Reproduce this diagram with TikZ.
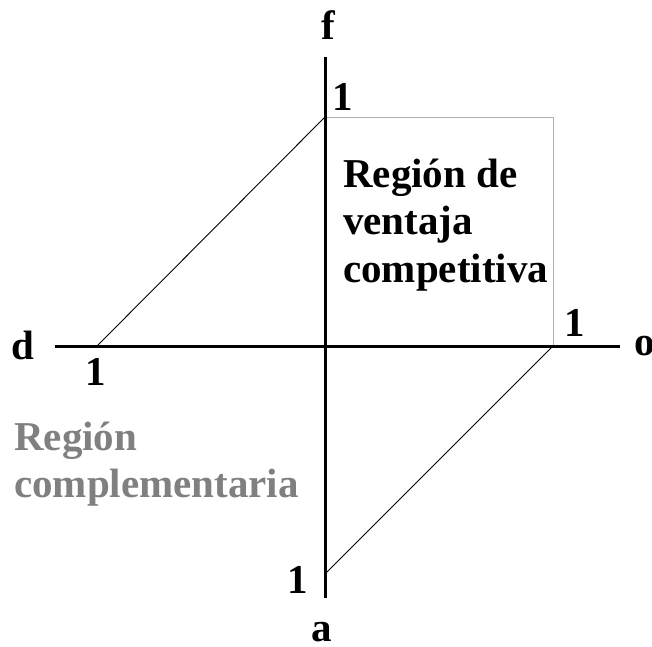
\documentclass[tikz,border=0pt]{standalone}
\usepackage{fontspec}
\setmainfont{Liberation Serif}
\definecolor{txtgray}{RGB}{128,128,128}
\definecolor{boxgray}{RGB}{175,175,175}
\tikzset{
  axisline/.style={line width=3pt},
  diag/.style={line width=0.9pt},
  boxline/.style={line width=1pt, draw=boxgray},
  lbl/.style={font=\fontsize{41}{47}\selectfont\bfseries, inner sep=0pt},
  glbl/.style={lbl, text=txtgray}
}
\begin{document}
\begin{tikzpicture}[x=1pt,y=-1pt]
\useasboundingbox (0,0) rectangle (652,646);
\clip (0,0) rectangle (652,646);
% key points
\coordinate (ftop) at (325,57);
\coordinate (abot) at (325,598);
\coordinate (dleft) at (55,346);
\coordinate (oright) at (620,346);
\coordinate (F1) at (325,117);
\coordinate (D1) at (97,346);
\coordinate (O1) at (553,346);
\coordinate (A1) at (325,574);
\coordinate (corner) at (553,117);
% gray box
\draw[boxline] (F1) -- (corner) -- (O1);
% diagonals
\draw[diag] (D1) -- (F1);
\draw[diag] (O1) -- (A1);
% axes
\draw[axisline] (ftop) -- (abot);
\draw[axisline] (dleft) -- (oright);
% axis labels
\node[lbl] (lf) at (328,25) {f};
\node[lbl] (la) at (322,632) {a};
\node[lbl] (ld) at (23,345) {d};
\node[lbl] (lo) at (645,346) {o};
% unit labels
\node[lbl] (n1) at (343,97) {1};
\node[lbl] (n2) at (96,372) {1};
\node[lbl] (n3) at (575,323) {1};
\node[lbl] (n4) at (298,580) {1};
% region texts
\node[lbl, anchor=base west] (r1) at (343,187) {Región de};
\node[lbl, anchor=base west] (r2) at (343,234) {ventaja};
\node[lbl, anchor=base west] (r3) at (343,282) {competitiva};
\node[glbl, anchor=base west] (c1) at (14,450) {Región};
\node[glbl, anchor=base west] (c2) at (14,497) {complementaria};
\end{tikzpicture}
\end{document}
